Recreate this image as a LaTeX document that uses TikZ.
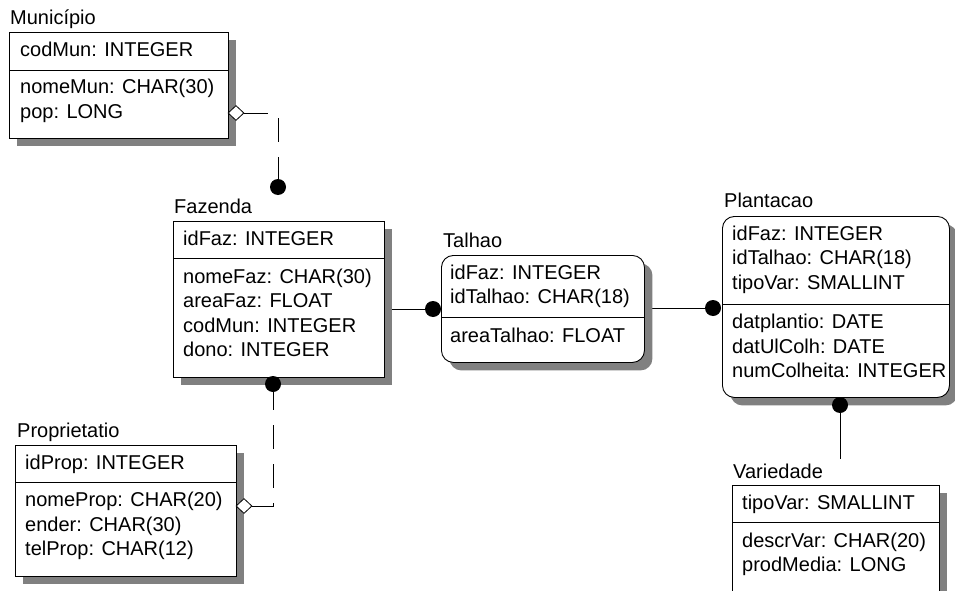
\documentclass[tikz,border=0pt]{standalone}
\usepackage{fontspec}
\setmainfont{Liberation Sans}
\usetikzlibrary{shapes.geometric,shadows}
\definecolor{shadowgray}{RGB}{128,128,128}
\newcommand{\attrfont}{\fontsize{20}{24}\selectfont}
\pgfdeclarelayer{links}
\pgfsetlayers{links,main}
\begin{document}
\begin{tikzpicture}[x=1pt,y=-1pt,
  ent/.style={draw, fill=white, line width=0.9pt, inner sep=0pt, anchor=north west,
    drop shadow={shadow xshift=8pt, shadow yshift=-8pt, fill=shadowgray, opacity=1}},
  entr/.style={ent, rounded corners=12pt},
  lbl/.style={anchor=base west, inner sep=0pt, font=\attrfont},
  divline/.style={line width=0.8pt},
  link/.style={line width=0.9pt},
  optlink/.style={link, dash pattern=on 24pt off 15pt},
  dot/.style={circle, fill=black, inner sep=0pt, minimum size=16pt},
  dia/.style={diamond, draw, fill=white, line width=0.8pt, inner sep=0pt,
    minimum width=16pt, minimum height=15pt}]
\useasboundingbox (0,0) rectangle (955,591);
\clip (0,0) rectangle (955,591);

% entity boxes
\node[ent, minimum width=219pt, minimum height=106pt] (mun) at (9,32) {};
\node[ent, minimum width=211pt, minimum height=156pt] (faz) at (173,221) {};
\node[entr, minimum width=203pt, minimum height=107pt] (tal) at (441,255) {};
\node[entr, minimum width=227pt, minimum height=181pt] (pla) at (722,216) {};
\node[ent, minimum width=221pt, minimum height=131pt] (prop) at (15,445) {};
\node[ent, minimum width=207pt, minimum height=125pt] (var) at (732,485) {};

% dividers between key and non-key attributes
\draw[divline] (mun.west |- 0,70) -- (mun.east |- 0,70);
\draw[divline] (faz.west |- 0,258) -- (faz.east |- 0,258);
\draw[divline] (tal.west |- 0,317) -- (tal.east |- 0,317);
\draw[divline] (pla.west |- 0,304) -- (pla.east |- 0,304);
\draw[divline] (prop.west |- 0,482) -- (prop.east |- 0,482);
\draw[divline] (var.west |- 0,522) -- (var.east |- 0,522);

% relationship end markers
\node[dia] (dMun) at (236,113) {};
\node[dot] (cFazTop) at (278,187) {};
\node[dot] (cFazBot) at (273,384) {};
\node[dia] (dProp) at (244,506) {};
\node[dot] (cTal) at (433,309) {};
\node[dot] (cPla) at (713,308) {};
\node[dot] (cVar) at (840,405) {};
\coordinate (vEnd) at (840,459);

% connectors, kept underneath boxes and shadows
\begin{pgfonlayer}{links}
\draw[optlink] (dMun.east) -| (cFazTop.north);
\draw[optlink] (dProp.east) -| (cFazBot.south);
\draw[link] (cTal.west) -- (cTal.west -| faz.east);
\draw[link] (cPla.west) -- (cPla.west -| tal.east);
\draw[link] (cVar.south) -- (vEnd);
\end{pgfonlayer}

% Municipio
\node[lbl] (munT) at (10,25) {Município};
\node[lbl] (mun1) at (20,57) {codMun: INTEGER};
\node[lbl] (mun2) at (20,94) {nomeMun: CHAR(30)};
\node[lbl] (mun3) at (20,118.5) {pop: LONG};

% Fazenda
\node[lbl] (fazT) at (174,213) {Fazenda};
\node[lbl] (faz1) at (183,245.5) {idFaz: INTEGER};
\node[lbl] (faz2) at (183,283) {nomeFaz: CHAR(30)};
\node[lbl] (faz3) at (183,307.5) {areaFaz: FLOAT};
\node[lbl] (faz4) at (183,332) {codMun: INTEGER};
\node[lbl] (faz5) at (183,356.5) {dono: INTEGER};

% Talhao
\node[lbl] (talT) at (443,247) {Talhao};
\node[lbl] (tal1) at (450,279) {idFaz: INTEGER};
\node[lbl] (tal2) at (450,303.5) {idTalhao: CHAR(18)};
\node[lbl] (tal3) at (450,342.5) {areaTalhao: FLOAT};

% Plantacao
\node[lbl] (plaT) at (724,207) {Plantacao};
\node[lbl] (pla1) at (732,240) {idFaz: INTEGER};
\node[lbl] (pla2) at (732,264.5) {idTalhao: CHAR(18)};
\node[lbl] (pla3) at (732,289) {tipoVar: SMALLINT};
\node[lbl] (pla4) at (732,328.5) {datplantio: DATE};
\node[lbl] (pla5) at (732,353) {datUlColh: DATE};
\node[lbl] (pla6) at (732,377.5) {numColheita: INTEGER};

% Proprietatio
\node[lbl] (propT) at (17,437) {Proprietatio};
\node[lbl] (prop1) at (25,469.5) {idProp: INTEGER};
\node[lbl] (prop2) at (25,506.5) {nomeProp: CHAR(20)};
\node[lbl] (prop3) at (25,531) {ender: CHAR(30)};
\node[lbl] (prop4) at (25,555.5) {telProp: CHAR(12)};

% Variedade
\node[lbl] (varT) at (733,478) {Variedade};
\node[lbl] (var1) at (742,509) {tipoVar: SMALLINT};
\node[lbl] (var2) at (742,547) {descrVar: CHAR(20)};
\node[lbl] (var3) at (742,571.5) {prodMedia: LONG};
\end{tikzpicture}
\end{document}
